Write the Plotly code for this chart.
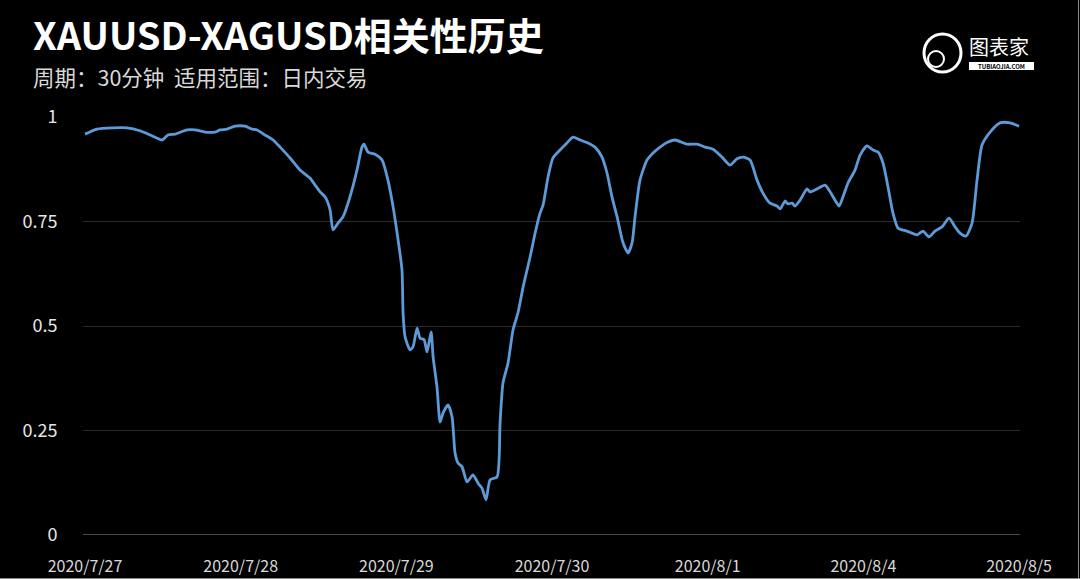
import plotly.graph_objects as go

# Trading-day tick labels
tick_labels = ["2020/7/27", "2020/7/28", "2020/7/29", "2020/7/30", "2020/8/1", "2020/8/4", "2020/8/5"]
tick_pos = [0, 1, 2, 3, 4, 5, 6]

# Time position in trading-day units (30-minute bars)
t = [0.000, 0.077, 0.180, 0.270, 0.353, 0.430, 0.495, 0.533, 0.578, 0.655,
     0.707, 0.771, 0.835, 0.867, 0.912, 0.964, 1.028, 1.073, 1.105, 1.156,
     1.208, 1.253, 1.317, 1.381, 1.445, 1.478, 1.510, 1.542, 1.574, 1.593,
     1.625, 1.657, 1.702, 1.747, 1.779, 1.792, 1.818, 1.863, 1.908, 1.946,
     1.979, 2.011, 2.036, 2.043, 2.056, 2.088, 2.107, 2.133, 2.152, 2.178,
     2.197, 2.223, 2.236, 2.261, 2.281, 2.300, 2.332, 2.358, 2.377, 2.396,
     2.422, 2.454, 2.492, 2.525, 2.550, 2.576, 2.602, 2.647, 2.666, 2.685,
     2.717, 2.749, 2.782, 2.814, 2.859, 2.891, 2.923, 2.942, 2.974, 3.006,
     3.051, 3.096, 3.135, 3.180, 3.231, 3.276, 3.321, 3.353, 3.385, 3.418,
     3.456, 3.488, 3.514, 3.533, 3.565, 3.610, 3.649, 3.694, 3.745, 3.790,
     3.867, 3.931, 3.983, 4.034, 4.092, 4.143, 4.188, 4.227, 4.272, 4.317,
     4.355, 4.400, 4.445, 4.465, 4.497, 4.516, 4.542, 4.561, 4.593, 4.638,
     4.657, 4.702, 4.754, 4.786, 4.818, 4.844, 4.869, 4.901, 4.946, 4.979,
     5.023, 5.062, 5.094, 5.126, 5.158, 5.190, 5.223, 5.280, 5.345, 5.383,
     5.422, 5.460, 5.505, 5.550, 5.589, 5.621, 5.659, 5.698, 5.730, 5.762,
     5.814, 5.878, 5.942, 6.000]

# Correlation values
corr = [0.959, 0.971, 0.974, 0.974, 0.967, 0.955, 0.945, 0.957, 0.959, 0.969,
        0.969, 0.964, 0.964, 0.969, 0.971, 0.978, 0.978, 0.971, 0.969, 0.957,
        0.945, 0.928, 0.902, 0.873, 0.854, 0.837, 0.821, 0.809, 0.778, 0.730,
        0.746, 0.761, 0.809, 0.873, 0.928, 0.935, 0.916, 0.911, 0.897, 0.849,
        0.785, 0.706, 0.634, 0.531, 0.474, 0.443, 0.450, 0.495, 0.471, 0.467,
        0.438, 0.486, 0.426, 0.354, 0.270, 0.292, 0.311, 0.282, 0.196, 0.172,
        0.163, 0.127, 0.144, 0.124, 0.112, 0.084, 0.132, 0.139, 0.268, 0.364,
        0.411, 0.490, 0.533, 0.593, 0.665, 0.722, 0.770, 0.789, 0.856, 0.902,
        0.921, 0.938, 0.952, 0.945, 0.938, 0.928, 0.904, 0.866, 0.809, 0.761,
        0.699, 0.675, 0.699, 0.761, 0.849, 0.897, 0.914, 0.928, 0.940, 0.945,
        0.935, 0.935, 0.928, 0.923, 0.904, 0.885, 0.900, 0.904, 0.897, 0.849,
        0.818, 0.794, 0.787, 0.780, 0.799, 0.792, 0.794, 0.787, 0.801, 0.828,
        0.821, 0.828, 0.837, 0.821, 0.801, 0.787, 0.809, 0.842, 0.873, 0.909,
        0.931, 0.921, 0.916, 0.890, 0.833, 0.770, 0.734, 0.727, 0.718, 0.727,
        0.713, 0.727, 0.737, 0.758, 0.737, 0.722, 0.715, 0.746, 0.849, 0.933,
        0.964, 0.986, 0.986, 0.978]

y_ticks = [0, 0.25, 0.5, 0.75, 1]
y_tick_text = ["0", "0.25", "0.5", "0.75", "1"]

FONT = "Noto Sans CJK SC"

fig = go.Figure()
fig.add_trace(go.Scatter(
    x=t, y=corr, mode="lines",
    line=dict(color="#5d9ad8", width=2.8, shape="spline", smoothing=0.6),
    hoverinfo="skip", showlegend=False,
))

# pixel helpers for decorations (plot area: x 83..1020, y 117..535)
def px(xp):
    return (xp - 83) / 937.0

def py(yp):
    return (535 - yp) / 418.0

fig.update_layout(
    width=1080, height=579,
    paper_bgcolor="#000000", plot_bgcolor="#000000",
    margin=dict(l=83, r=60, t=117, b=44, autoexpand=False),
    font=dict(family=FONT, color="#e0e0e0"),
    xaxis=dict(
        range=[-0.013, 6.006], tickvals=tick_pos, ticktext=tick_labels,
        showgrid=False, zeroline=False, showline=False, automargin=False,
        ticks="outside", ticklen=17, tickcolor="rgba(0,0,0,0)",
        tickfont=dict(size=16, color="#d9d9d9", family=FONT),
    ),
    yaxis=dict(
        range=[0, 1], tickvals=y_ticks, ticktext=y_tick_text,
        showgrid=True, gridcolor="#2a2a2a", gridwidth=1,
        zeroline=False, showline=False, automargin=False,
        ticks="outside", ticklen=21, tickcolor="rgba(0,0,0,0)",
        tickfont=dict(size=18, color="#e6e6e6", family=FONT),
    ),
    shapes=[
        # baseline at 0
        dict(type="line", xref="paper", yref="y", x0=0, x1=1, y0=0, y1=0,
             line=dict(color="#4a4a4a", width=2)),
        # frame lines on right and bottom edges
        dict(type="line", xref="paper", yref="paper", x0=px(1078.5), x1=px(1078.5),
             y0=py(0), y1=py(579), line=dict(color="#8a8a8a", width=1)),
        dict(type="line", xref="paper", yref="paper", x0=px(0), x1=px(1080),
             y0=py(578.5), y1=py(578.5), line=dict(color="#8a8a8a", width=1)),
        # logo head outline
        dict(type="circle", xref="paper", yref="paper",
             x0=px(924), x1=px(961), y0=py(72), y1=py(34),
             line=dict(color="#ffffff", width=3)),
        dict(type="circle", xref="paper", yref="paper",
             x0=px(928), x1=px(944), y0=py(67), y1=py(51),
             line=dict(color="#ffffff", width=2)),
        # logo url bar
        dict(type="rect", xref="paper", yref="paper",
             x0=px(969), x1=px(1034), y0=py(70), y1=py(62),
             fillcolor="#ffffff", line=dict(width=0)),
    ],
    annotations=[
        dict(text="<b>XAUUSD-XAGUSD相关性历史</b>", xref="paper", yref="paper",
             x=px(31), y=py(33.5), xanchor="left", yanchor="middle", showarrow=False,
             font=dict(size=38, color="#ffffff", family=FONT)),
        dict(text="周期：30分钟\u00a0\u00a0适用范围：日内交易", xref="paper", yref="paper",
             x=px(31), y=py(77), xanchor="left", yanchor="middle", showarrow=False,
             font=dict(size=21.5, color="#d9d9d9", family=FONT)),
        dict(text="图表家", xref="paper", yref="paper",
             x=px(967), y=py(47), xanchor="left", yanchor="middle", showarrow=False,
             font=dict(size=20, color="#ffffff", family=FONT)),
        dict(text="<b>TUBIAOJIA.COM</b>", xref="paper", yref="paper",
             x=px(1001.5), y=py(66.2), xanchor="center", yanchor="middle", showarrow=False,
             font=dict(size=6, color="#000000", family=FONT)),
    ],
)

fig.write_html(
    "out.html",
    config={"displayModeBar": False},
    post_script="document.body.style.margin='0';document.body.style.padding='0';document.body.style.overflow='hidden';",
)
